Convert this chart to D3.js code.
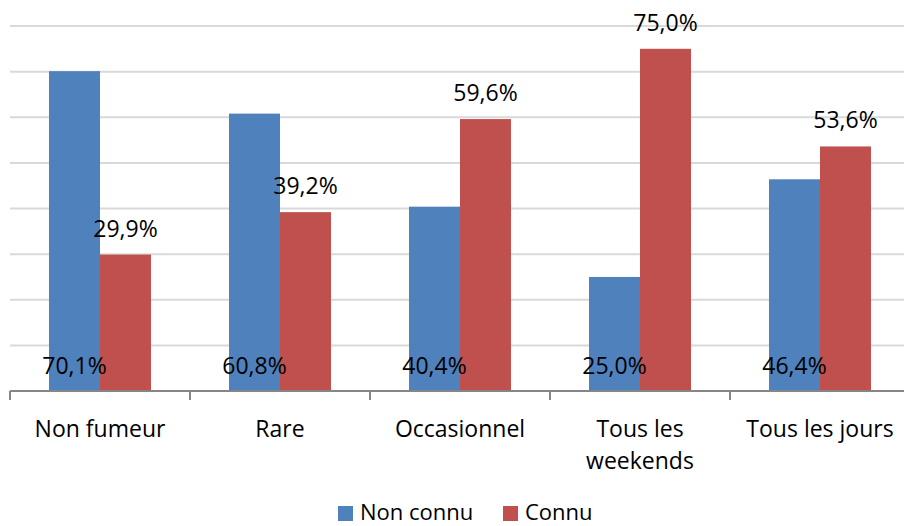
<!DOCTYPE html>
<html>
<head>
<meta charset="utf-8">
<script src="https://cdn.jsdelivr.net/npm/d3@7"></script>
<style>
body{margin:0;background:#fff;}
text{font-family:"Open Sans","Noto Sans",sans-serif;fill:#000;}
</style>
</head>
<body>
<div id="svgContainer"></div>
<script>
var categories = ["Non fumeur","Rare","Occasionnel","Tous les|weekends","Tous les jours"];
var series = ["Non connu","Connu"];
var nonConnu = [70.1,60.8,40.4,25.0,46.4];
var connu = [29.9,39.2,59.6,75.0,53.6];
var yTicks = [0,10,20,30,40,50,60,70,80];

var svgWidth = 904, svgHeight = 526;
var colors = ["#4F81BD","#C0504D"];

var svg = d3.select("#svgContainer").append("svg")
    .attr("width",svgWidth).attr("height",svgHeight);

var y = d3.scaleLinear().domain([0,80]).range([391,26]);
var x0 = d3.scaleBand().domain(d3.range(categories.length)).range([10,910]);
var x1 = d3.scaleBand().domain([0,1]).range([39,141]);

// gridlines
svg.append("g").selectAll("line")
    .data(yTicks.slice(1))
    .enter().append("line")
    .attr("x1",10).attr("x2",svgWidth)
    .attr("y1",d => y(d)).attr("y2",d => y(d))
    .attr("stroke","#D9D9D9").attr("stroke-width",2);

var data = categories.map(function(c,i){ return [nonConnu[i],connu[i]]; });

var groups = svg.selectAll(".grp").data(data).enter().append("g")
    .attr("class","grp")
    .attr("transform",(d,i) => "translate(" + x0(i) + ",0)");

groups.selectAll("rect").data(d => d).enter().append("rect")
    .attr("x",(d,j) => x1(j))
    .attr("y",d => y(d))
    .attr("width",x1.bandwidth())
    .attr("height",d => y(0) - y(d))
    .attr("fill",(d,j) => colors[j]);

groups.selectAll(".lbl").data(d => d).enter().append("text")
    .attr("class","lbl")
    .attr("x",(d,j) => x1(j) + x1.bandwidth()/2)
    .attr("y",(d,j) => j == 0 ? y(0) - 17 : y(d) - 18)
    .attr("text-anchor","middle")
    .attr("font-size",23)
    .text(d => d.toFixed(1).replace(".",",") + "%");

// x axis
var axis = svg.append("g");
axis.append("line")
    .attr("x1",10).attr("x2",svgWidth)
    .attr("y1",y(0)).attr("y2",y(0))
    .attr("stroke","#868686").attr("stroke-width",2);
axis.selectAll(".tick").data(d3.range(categories.length + 1)).enter().append("line")
    .attr("x1",i => i < categories.length ? x0(i) : 910)
    .attr("x2",i => i < categories.length ? x0(i) : 910)
    .attr("y1",y(0)).attr("y2",y(0) + 9)
    .attr("stroke","#868686").attr("stroke-width",2);

var cat = svg.append("g").selectAll("text").data(categories).enter().append("text")
    .attr("x",(d,i) => x0(i) + x0.bandwidth()/2)
    .attr("y",437)
    .attr("text-anchor","middle")
    .attr("font-size",23);
cat.each(function(d){
    var lines = d.split("|");
    var t = d3.select(this);
    lines.forEach(function(l,k){
        t.append("tspan").attr("x",t.attr("x")).attr("dy",k == 0 ? 0 : 32).text(l);
    });
});

// legend
var legendX = [338,503];
var legend = svg.selectAll(".legend").data(series).enter().append("g")
    .attr("class","legend")
    .attr("transform",(d,i) => "translate(" + legendX[i] + ",506)");
legend.append("rect").attr("width",15).attr("height",15).attr("fill",(d,i) => colors[i]);
legend.append("text").attr("x",22).attr("y",14).attr("font-size",22).text(d => d);
</script>
</body>
</html>
